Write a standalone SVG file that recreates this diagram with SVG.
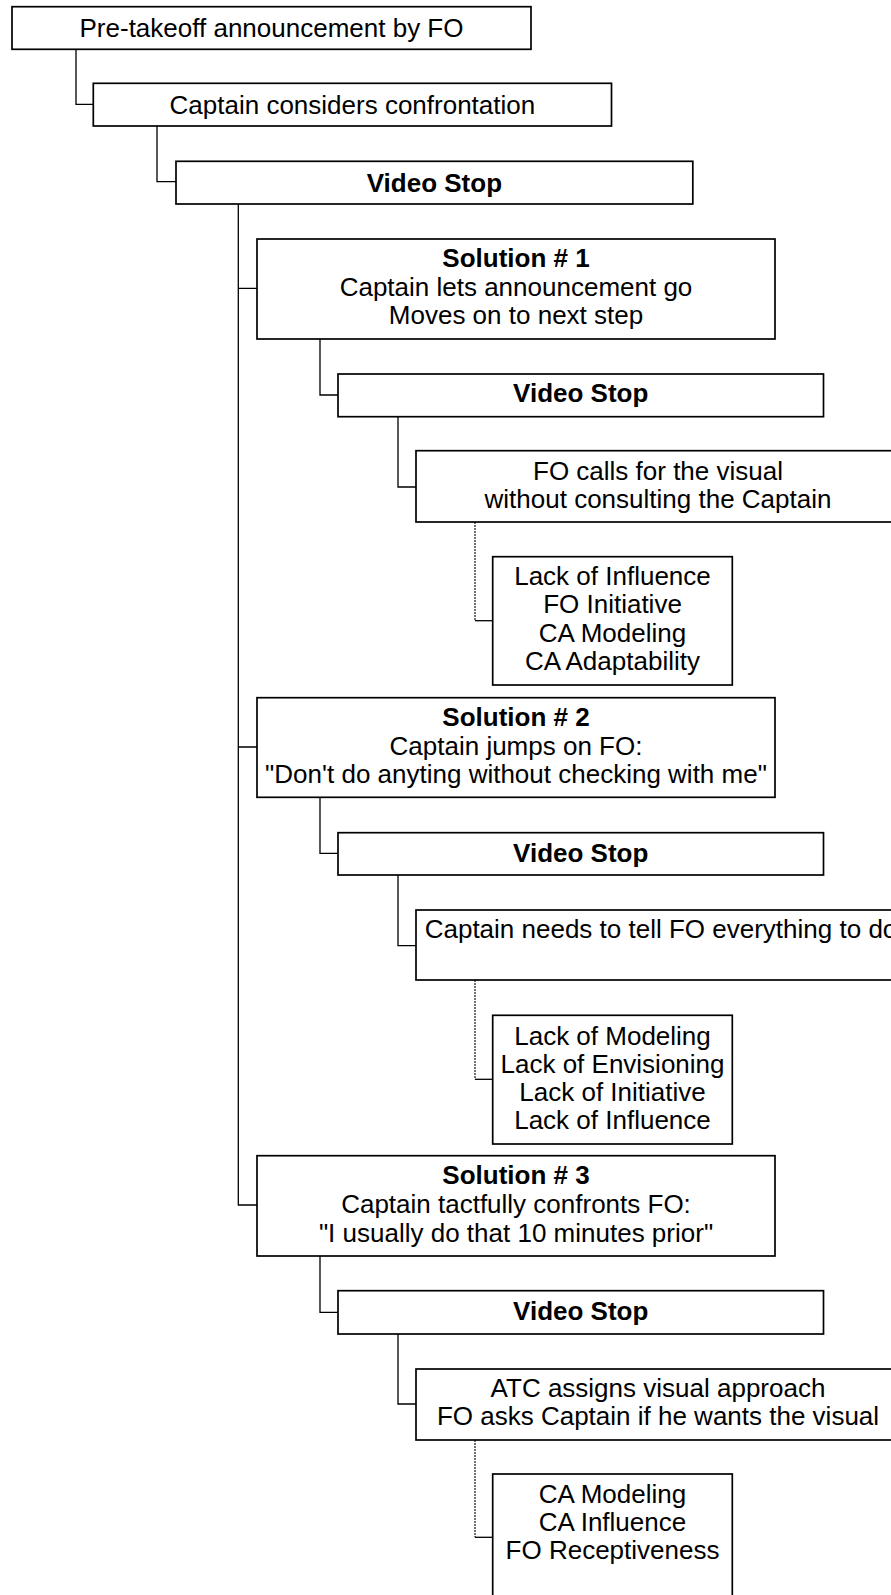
<svg xmlns="http://www.w3.org/2000/svg" width="891" height="1595" viewBox="0 0 891 1595">
  <style>
    .box { fill: #ffffff; stroke: #000000; stroke-width: 1.7; }
    .link { fill: none; stroke: #000000; stroke-width: 1.3; }
    .dot { fill: none; stroke: #000000; stroke-width: 1.1; stroke-dasharray: 2 1; }
    text { font-family: "Liberation Sans", Arial, sans-serif; font-size: 26px; fill: #000000; text-anchor: middle; }
    .b { font-weight: bold; }
  </style>
  <rect width="891" height="1595" fill="#ffffff"/>

  <!-- connectors -->
  <g id="connectors">
    <path class="link" d="M76 49.3 V104.3 H93.3"/>
    <path class="link" d="M157 126 V181.7 H176"/>
    <path class="link" d="M238.3 204 V1205 H257 M238.3 288.3 H257 M238.3 747 H257"/>
    <path class="link" d="M320 339 V395 H338"/>
    <path class="link" d="M398 416.7 V487 H416"/>
    <path class="dot" d="M475 522 V620.7"/>
    <path class="link" d="M475 620.7 H492.7"/>
    <path class="link" d="M320 797.3 V853.3 H338"/>
    <path class="link" d="M398 875 V945.7 H416"/>
    <path class="dot" d="M475 980 V1079.3"/>
    <path class="link" d="M475 1079.3 H492.7"/>
    <path class="link" d="M320 1256 V1312.3 H338"/>
    <path class="link" d="M398 1334 V1404 H416"/>
    <path class="dot" d="M475 1440 V1537.3"/>
    <path class="link" d="M475 1537.3 H492.7"/>
  </g>

  <g id="announcement">
    <rect class="box" x="12" y="6.7" width="519" height="42.6"/>
    <text x="271.5" y="37">Pre-takeoff announcement by FO</text>
  </g>
  <g id="considers">
    <rect class="box" x="93.3" y="83.3" width="518.2" height="42.7"/>
    <text x="352.4" y="113.5">Captain considers confrontation</text>
  </g>
  <g id="stop-main">
    <rect class="box" x="176" y="161.3" width="516.8" height="42.7"/>
    <text class="b" x="434.4" y="191.5">Video Stop</text>
  </g>

  <!-- branch 1 -->
  <g id="solution-1">
    <rect class="box" x="257" y="239" width="518" height="100"/>
    <text class="b" x="516" y="267.3">Solution # 1</text>
    <text x="516" y="296">Captain lets announcement go</text>
    <text x="516" y="324.3">Moves on to next step</text>
  </g>
  <g id="stop-1">
    <rect class="box" x="338" y="374" width="485.5" height="42.7"/>
    <text class="b" x="580.7" y="402.3">Video Stop</text>
  </g>
  <g id="result-1">
    <rect class="box" x="416" y="450.7" width="484" height="71.3"/>
    <text x="658" y="480">FO calls for the visual</text>
    <text x="658" y="507.7">without consulting the Captain</text>
  </g>
  <g id="skills-1">
    <rect class="box" x="492.7" y="556.7" width="239.6" height="128.3"/>
    <text x="612.5" y="585">Lack of Influence</text>
    <text x="612.5" y="613.3">FO Initiative</text>
    <text x="612.5" y="641.7">CA Modeling</text>
    <text x="612.5" y="670">CA Adaptability</text>
  </g>

  <!-- branch 2 -->
  <g id="solution-2">
    <rect class="box" x="257" y="697.7" width="518" height="99.6"/>
    <text class="b" x="516" y="726">Solution # 2</text>
    <text x="516" y="755">Captain jumps on FO:</text>
    <text x="516" y="783.3">"Don't do anyting without checking with me"</text>
  </g>
  <g id="stop-2">
    <rect class="box" x="338" y="832.7" width="485.5" height="42.3"/>
    <text class="b" x="580.7" y="861.7">Video Stop</text>
  </g>
  <g id="result-2">
    <rect class="box" x="416" y="910" width="490" height="70"/>
    <text x="661" y="938.3">Captain needs to tell FO everything to do</text>
  </g>
  <g id="skills-2">
    <rect class="box" x="492.7" y="1015.3" width="239.6" height="128.7"/>
    <text x="612.5" y="1045">Lack of Modeling</text>
    <text x="612.5" y="1073.3">Lack of Envisioning</text>
    <text x="612.5" y="1100.7">Lack of Initiative</text>
    <text x="612.5" y="1129">Lack of Influence</text>
  </g>

  <!-- branch 3 -->
  <g id="solution-3">
    <rect class="box" x="257" y="1155.7" width="518" height="100.3"/>
    <text class="b" x="516" y="1184">Solution # 3</text>
    <text x="516" y="1213.3">Captain tactfully confronts FO:</text>
    <text x="516" y="1241.7">"I usually do that 10 minutes prior"</text>
  </g>
  <g id="stop-3">
    <rect class="box" x="338" y="1290.7" width="485.5" height="43.3"/>
    <text class="b" x="580.7" y="1320">Video Stop</text>
  </g>
  <g id="result-3">
    <rect class="box" x="416" y="1369" width="484" height="71"/>
    <text x="658" y="1396.7">ATC assigns visual approach</text>
    <text x="658" y="1425">FO asks Captain if he wants the visual</text>
  </g>
  <g id="skills-3">
    <rect class="box" x="492.7" y="1474" width="239.6" height="127"/>
    <text x="612.5" y="1502.7">CA Modeling</text>
    <text x="612.5" y="1530.7">CA Influence</text>
    <text x="612.5" y="1559">FO Receptiveness</text>
  </g>
</svg>
